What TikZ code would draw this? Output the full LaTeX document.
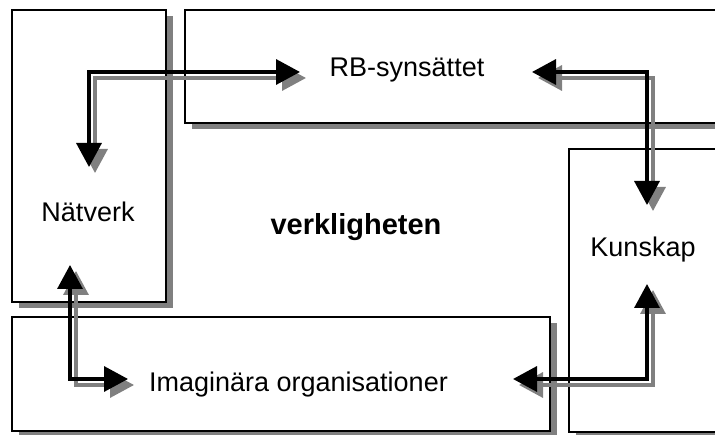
\documentclass[tikz,border=0pt]{standalone}
\usepackage{fontspec}
\setmainfont{Liberation Sans}
\usetikzlibrary{arrows.meta}
\begin{document}
\begin{tikzpicture}[x=1pt,y=1pt,
  shadowgray/.style={fill=black!50, draw=none},
  framebox/.style={draw=black, fill=white, line width=1.3pt},
  label/.style={font=\fontsize{27}{31}\selectfont, anchor=base, inner sep=0pt},
  link/.style={line width=3.4pt, line join=miter,
    {Triangle[length=24pt,width=25pt]}-{Triangle[length=24pt,width=25pt]}},
  linkshadow/.style={link, draw=black!50,
    transform canvas={shift={(6pt,-6pt)}}}]
\useasboundingbox (0,0) rectangle (715,434);
\clip (0,0) rectangle (715,434);

% framed areas with their drop shadows
\fill[shadowgray] (18.5,125.5) rectangle (172.5,417.5);
\draw[framebox] (12,132) rectangle (166,424);
\fill[shadowgray] (191.5,304.5) rectangle (766,417.5);
\draw[framebox] (185,311) rectangle (760,424);
\fill[shadowgray] (575.5,-4.5) rectangle (766,278.5);
\draw[framebox] (569,2) rectangle (760,285);
\fill[shadowgray] (18.5,-3.5) rectangle (556.5,110.5);
\draw[framebox] (12,3) rectangle (550,117);

% labels
\node[label] (rb) at (407,357) {RB-synsättet};
\node[label] (natverk) at (88,212) {Nätverk};
\node[label, font=\fontsize{29}{33}\selectfont\bfseries] (verk) at (356,199) {verkligheten};
\node[label] (kunskap) at (643,177) {Kunskap};
\node[label] (imag) at (298.5,43) {Imaginära organisationer};

% arrow end points and corners
\coordinate (n1) at (89,267);  \coordinate (c1) at (89,362);  \coordinate (r1) at (300,362);
\coordinate (r2) at (532,362); \coordinate (c2) at (647,362); \coordinate (k2) at (647,229);
\coordinate (n3) at (70,169);  \coordinate (c3) at (70,55);   \coordinate (i3) at (128,55);
\coordinate (k4) at (647,150); \coordinate (c4) at (647,55);  \coordinate (i4) at (513,55);

% shadows of the connectors
\draw[linkshadow] (n1) -- (c1) -- (r1);
\draw[linkshadow] (r2) -- (c2) -- (k2);
\draw[linkshadow] (n3) -- (c3) -- (i3);
\draw[linkshadow] (k4) -- (c4) -- (i4);

% connectors
\draw[link] (n1) -- (c1) -- (r1);
\draw[link] (r2) -- (c2) -- (k2);
\draw[link] (n3) -- (c3) -- (i3);
\draw[link] (k4) -- (c4) -- (i4);
\end{tikzpicture}
\end{document}
